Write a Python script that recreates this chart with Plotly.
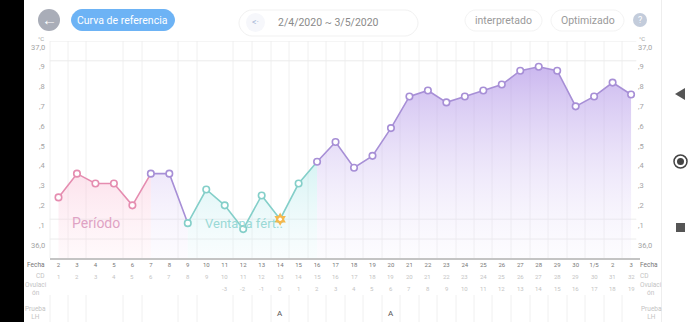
import plotly.graph_objects as go

dates = ["2","3","4","5","6","7","8","9","10","11","12","13","14","15","16","17","18","19","20","21","22","23","24","25","26","27","28","29","30","1/5","2","3"]
temps = [36.21,36.33,36.28,36.28,36.17,36.33,36.33,36.08,36.25,36.17,36.05,36.22,36.10,36.28,36.39,36.49,36.36,36.42,36.56,36.72,36.75,36.69,36.72,36.75,36.78,36.85,36.87,36.85,36.67,36.72,36.79,36.73]
cd_days = [str(i) for i in range(1,33)]
ovulation_days = ["","","","","","","","","","-3","-2","-1","0"]+[str(i) for i in range(1,20)]
lh_tests = {12:"A",18:"A"}
y_labels = [("37,0",37.0),(",9",36.9),(",8",36.8),(",7",36.7),(",6",36.6),(",5",36.5),(",4",36.4),(",3",36.3),(",2",36.2),(",1",36.1),("36,0",36.0)]
major_grid = [37.0,36.9,36.1,36.0]
phases = [
    (0,5,"#e58db0","rgba(246,170,200,0.45)","rgba(255,225,235,0.20)"),
    (5,7,"#a78fd6","rgba(190,165,235,0.35)","rgba(235,225,250,0.12)"),
    (7,14,"#84cfc9","rgba(150,225,225,0.45)","rgba(225,245,250,0.20)"),
    (14,31,"#a78fd6","rgba(175,145,230,0.68)","rgba(240,235,252,0.15)"),
]
W,H = 700,322
L,R,T,B = 49.5,640.0,41.0,258.0
Y_BOTTOM = 36.0-(B-239)/198
X_LEFT = -(58.5-L)/18.47
X_RIGHT = (R-58.5)/18.47
px = lambda v:v/W
py = lambda v:1-v/H
MUTED="#a3a3a3"; LIGHT="#c4c4c4"
FONT="Roboto"

fig = go.Figure()
xs = list(range(len(temps)))

for a,b,line,top,bot in phases:
    seg = xs[a:b+1]
    fig.add_trace(go.Scatter(x=seg,y=[Y_BOTTOM]*len(seg),mode="lines",line=dict(width=0),showlegend=False,hoverinfo="skip"))
    fig.add_trace(go.Scatter(x=seg,y=temps[a:b+1],mode="lines",line=dict(color=line,width=1.6),fill="tonexty",
        fillgradient=dict(type="vertical",colorscale=[[0,bot],[1,top]],start=Y_BOTTOM,stop=36.45 if b<31 else 36.9),showlegend=False))
marker_col=[]
for i in xs:
    c="#a78fd6"
    if i<5: c="#e58db0"
    elif 7<=i<14: c="#84cfc9"
    marker_col.append(c)
fig.add_trace(go.Scatter(x=xs,y=temps,mode="markers",marker=dict(size=6.5,color="white",line=dict(color=marker_col,width=1.6)),showlegend=False))
fig.add_trace(go.Scatter(x=[12],y=[temps[12]],mode="markers",marker=dict(size=10,symbol="hexagram",color="#f5b84d"),showlegend=False))
fig.add_trace(go.Scatter(x=[12],y=[temps[12]],mode="markers",marker=dict(size=3.5,color="white"),showlegend=False))

shapes=[]; ann=[]
def text(x,y,s,size=7,color=MUTED,xanchor="center",**kw):
    ann.append(dict(x=px(x),y=py(y),xref="paper",yref="paper",text=s,showarrow=False,font=dict(size=size,color=color,family=FONT),xanchor=xanchor,yanchor="middle",align="center",borderpad=0,**kw))
def pill(x0,x1,y0,y1,fill,line=None):
    r=(y1-y0)/2
    P=lambda a,b:f"{px(a)} {py(b)}"
    path=(f"M {P(x0+r,y0)} L {P(x1-r,y0)} C {P(x1-r*.45,y0)} {P(x1,y0+r*.55)} {P(x1,y0+r)} "
          f"C {P(x1,y1-r*.55)} {P(x1-r*.45,y1)} {P(x1-r,y1)} L {P(x0+r,y1)} "
          f"C {P(x0+r*.45,y1)} {P(x0,y1-r*.55)} {P(x0,y0+r)} C {P(x0,y0+r*.55)} {P(x0+r*.45,y0)} {P(x0+r,y0)} Z")
    shapes.append(dict(type="path",xref="paper",yref="paper",path=path,fillcolor=fill,line=dict(color=line,width=1) if line else dict(width=0)))

for v in major_grid:
    shapes.append(dict(type="line",xref="x",yref="y",x0=X_LEFT,x1=X_RIGHT-0.2,y0=v,y1=v,line=dict(color="#ececec",width=1),layer="below"))
grid_x=[50,68,86,123,142,178,197,233,252,271,289,308,326,363,382,419,437,474,492,530,548,585,604,622]
for gx in grid_x+[345,400,456,511,567]:
    shapes.append(dict(type="line",xref="paper",yref="paper",x0=px(gx),x1=px(gx),y0=py(41),y1=py(258),line=dict(color="#f0f0f0",width=1),layer="below"))
    shapes.append(dict(type="line",xref="paper",yref="paper",x0=px(gx),x1=px(gx),y0=py(295),y1=py(322),line=dict(color="#f0f0f0",width=1),layer="below"))

for s,v in y_labels:
    yy=239-(v-36.0)*198+6
    text(46,yy,s,7.5,xanchor="right")
    text(637,yy,s,7.5,xanchor="left")
text(45,38,"°C",6,xanchor="right"); text(638,38,"°C",6,xanchor="left")

for lab,y in [("Fecha",264.5),("CD",276)]:
    text(46,y,lab,6.5,"#777777" if lab=="Fecha" else LIGHT,xanchor="right")
    text(639,y,lab,6.5,"#777777" if lab=="Fecha" else LIGHT,xanchor="left")
text(36,289,"Ovulaci<br>ón",6.5,LIGHT); text(651,289,"Ovulaci<br>ón",6.5,LIGHT)
text(35,313,"Prueba<br>LH",6.5,LIGHT); text(651,313,"Prueba<br>LH",6.5,LIGHT)
for i in xs:
    x=58.5+i*18.47
    text(x,276,cd_days[i],6,LIGHT)
    if ovulation_days[i]: text(x,288,ovulation_days[i],6,LIGHT)
    if i in lh_tests: text(x,313,lh_tests[i],8,"#555555")

text(96,223,"Período",14,"#dfa3c4")
text(244,223.5,"Ventana fért..",13,"#9ad9d6")

shapes.append(dict(type="circle",xref="paper",yref="paper",x0=px(38),x1=px(60),y0=py(9),y1=py(31),fillcolor="#a9adb8",line=dict(width=0)))
text(49,20,"←",15,"white")
pill(71,175,9,31,"#6db3f5")
text(122.5,20,"Curva de referencia",10.5,"white")
pill(239,418,10,36,"white","#f1f1f1")
shapes.append(dict(type="circle",xref="paper",yref="paper",x0=px(246),x1=px(265),y0=py(13),y1=py(32),fillcolor="#f6f7fb",line=dict(width=0)))
text(255,22.5,"&lt;·",9,"#a9b9d8")
text(328,23,"2/4/2020 ~ 3/5/2020",10.5,"#8a8a8a")
for x0,x1,s in [(465,542,"interpretado"),(551,624,"Optimizado")]:
    pill(x0,x1,10,31,"white","#f3f3f3")
    text((x0+x1)/2,20.5,s,10.5,"#9a9a9a")
shapes.append(dict(type="circle",xref="paper",yref="paper",x0=px(633),x1=px(647),y0=py(13),y1=py(27),fillcolor="#c3ccdb",line=dict(width=0)))
text(640,20,"?",9,"white")

shapes.append(dict(type="rect",xref="paper",yref="paper",x0=0,x1=px(24),y0=0,y1=1,fillcolor="black",line=dict(width=0)))
shapes.append(dict(type="line",xref="paper",yref="paper",x0=px(661.5),x1=px(661.5),y0=0,y1=1,line=dict(color="#eeeeee",width=1)))
shapes.append(dict(type="path",xref="paper",yref="paper",path=f"M {px(675)} {py(94)} L {px(685)} {py(88)} L {px(685)} {py(100)} Z",fillcolor="#555555",line=dict(width=0)))
shapes.append(dict(type="circle",xref="paper",yref="paper",x0=px(674),x1=px(687),y0=py(155),y1=py(168),fillcolor="white",line=dict(color="#444444",width=1.5)))
shapes.append(dict(type="circle",xref="paper",yref="paper",x0=px(677),x1=px(684),y0=py(158),y1=py(165),fillcolor="#444444",line=dict(width=0)))
shapes.append(dict(type="rect",xref="paper",yref="paper",x0=px(676),x1=px(685),y0=py(223),y1=py(232),fillcolor="#555555",line=dict(width=0)))

fig.update_layout(width=W,height=H,margin=dict(l=0,r=0,t=0,b=0),paper_bgcolor="white",plot_bgcolor="rgba(0,0,0,0)",
    showlegend=False,shapes=shapes,annotations=ann,font=dict(family=FONT),
    xaxis=dict(domain=[px(L),px(R)],range=[X_LEFT,X_RIGHT],tickmode="array",tickvals=xs,ticktext=dates,
        tickfont=dict(size=6,color="#777777"),showgrid=False,zeroline=False,showline=True,linecolor="#c4c4c4",linewidth=1.5,ticks="",tickangle=0),
    yaxis=dict(domain=[py(B),py(T)],range=[Y_BOTTOM,37.0],showgrid=False,zeroline=False,showticklabels=False,ticks=""))
fig.write_html("out.html",post_script="document.body.style.margin='0';document.documentElement.style.overflow='hidden';",config={"displayModeBar":False})
